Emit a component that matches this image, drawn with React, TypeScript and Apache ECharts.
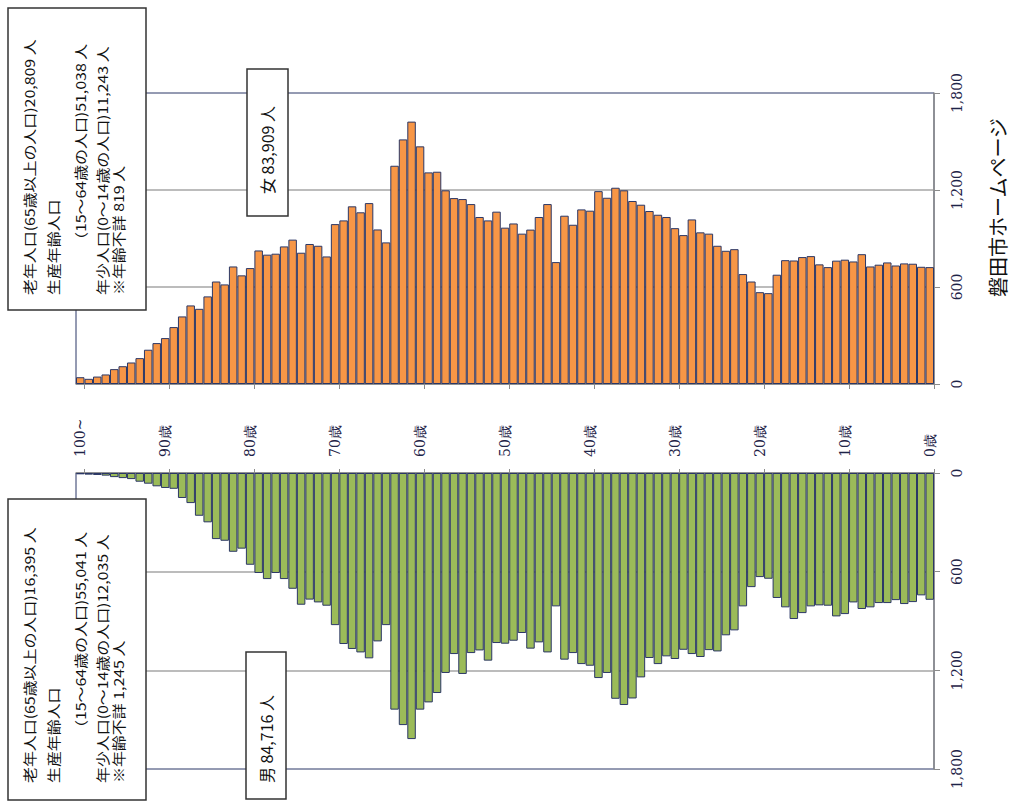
import React, { useEffect, useRef } from "react";
import * as echarts from "echarts";

// Age categories, left (100~) to right (0)
const ages = [
  "100~", "99", "98", "97", "96", "95", "94", "93", "92", "91",
  "90", "89", "88", "87", "86", "85", "84", "83", "82", "81",
  "80", "79", "78", "77", "76", "75", "74", "73", "72", "71",
  "70", "69", "68", "67", "66", "65", "64", "63", "62", "61",
  "60", "59", "58", "57", "56", "55", "54", "53", "52", "51",
  "50", "49", "48", "47", "46", "45", "44", "43", "42", "41",
  "40", "39", "38", "37", "36", "35", "34", "33", "32", "31",
  "30", "29", "28", "27", "26", "25", "24", "23", "22", "21",
  "20", "19", "18", "17", "16", "15", "14", "13", "12", "11",
  "10", "9", "8", "7", "6", "5", "4", "3", "2", "1",
  "0",
];

// 女 (female), age 100~ → 0
const female = [
  42, 32, 46, 59, 92, 110, 133, 160, 212, 253,
  284, 352, 418, 486, 465, 542, 634, 616, 727, 672,
  717, 826, 800, 806, 851, 893, 812, 866, 855, 789,
  989, 1012, 1099, 1062, 1119, 956, 876, 1350, 1513, 1623,
  1470, 1309, 1313, 1198, 1150, 1144, 1113, 1033, 1012, 1066,
  967, 993, 930, 955, 1033, 1113, 754, 1041, 985, 1080,
  1072, 1193, 1152, 1214, 1198, 1132, 1109, 1070, 1047, 1033,
  964, 921, 1018, 938, 930, 855, 824, 834, 680, 634,
  568, 562, 676, 766, 764, 785, 791, 740, 723, 763,
  769, 758, 803, 727, 738, 752, 733, 746, 744, 725,
  723,
];

// 男 (male), age 100~ → 0
const male = [
  8, 10, 12, 16, 25, 31, 37, 53, 65, 81,
  91, 96, 152, 183, 260, 300, 402, 412, 479, 460,
  558, 608, 645, 608, 645, 704, 801, 770, 787, 807,
  925, 1040, 1070, 1091, 1127, 1024, 925, 1439, 1533, 1618,
  1439, 1395, 1338, 1216, 1101, 1222, 1095, 1079, 1141, 1034,
  1038, 1020, 973, 1068, 1030, 1091, 811, 1135, 1095, 1162,
  1172, 1247, 1216, 1373, 1411, 1371, 1243, 1125, 1162, 1115,
  1131, 1075, 1101, 1119, 1077, 1085, 987, 957, 811, 694,
  633, 643, 760, 817, 888, 852, 811, 805, 807, 872,
  858, 787, 827, 817, 791, 791, 773, 797, 785, 744,
  771,
];

const femaleBoxLines = [
  "老年人口(65歳以上の人口)20,809 人",
  "生産年齢人口",
  "（15～64歳の人口)51,038 人",
  "年少人口(0～14歳の人口)11,243 人",
  "※年齢不詳 819 人",
];
const maleBoxLines = [
  "老年人口(65歳以上の人口)16,395 人",
  "生産年齢人口",
  "（15～64歳の人口)55,041 人",
  "年少人口(0～14歳の人口)12,035 人",
  "※年齢不詳 1,245 人",
];
const femaleTotal = "女 83,909 人";
const maleTotal = "男 84,716 人";
const sourceText = "磐田市ホームページ";

const VMAX = 1800;
const VSTEP = 600;

export default function App() {
  const ref = useRef<HTMLDivElement>(null);

  useEffect(() => {
    if (!ref.current) return;
    const chart = echarts.init(ref.current, null, { renderer: "svg" });
    const navy = "#2B3766";
    const gray = "#A6A6A6";
    const axisGray = "#8C8C8C";
    const tickLabel = {
      fontFamily: "DejaVu Serif",
      fontSize: 14,
      color: "#1E2347",
    };
    const cjk = "'Noto Sans CJK JP', sans-serif";

    const vText = (
      x: number,
      y: number,
      text: string,
      size: number,
      align = "left",
      stretch = 1
    ) => ({
      type: "text",
      x,
      y,
      rotation: Math.PI / 2,
      scaleX: stretch,
      z: 110,
      style: {
        text,
        font: `${size}px ${cjk}`,
        fill: "#111",
        textAlign: align,
        align,
        textVerticalAlign: "middle",
        verticalAlign: "middle",
      },
    });
    const box = (x: number, y: number, w: number, h: number) => ({
      type: "rect",
      z: 100,
      shape: { x, y, width: w, height: h },
      style: { fill: "#fff", stroke: "#333", lineWidth: 1.5 },
    });
    const colX = [29.5, 53, 80, 102, 118];
    const boxLines = (lines: string[], baseY: number) =>
      lines.map((t, i) =>
        vText(colX[i], i === 2 ? baseY - 47 : baseY, t, 13.5, "left", 1.18)
      );

    const labelInterval = (i: number) => i % 10 === 0;
    const tickInterval = (i: number) => i % 10 === 1;

    chart.setOption({
      animation: false,
      grid: [
        { left: 76, right: 81, top: 93, height: 291, show: true, borderColor: navy, borderWidth: 1 },
        { left: 76, right: 81, top: 473, height: 296, show: true, borderColor: navy, borderWidth: 1 },
      ],
      xAxis: [
        {
          type: "category",
          gridIndex: 0,
          data: ages,
          position: "bottom",
          axisLine: { lineStyle: { color: axisGray, width: 1.5 } },
          axisTick: { show: true, interval: tickInterval, length: 5, lineStyle: { color: axisGray } },
          axisLabel: { show: false },
          splitLine: { show: false },
        },
        {
          type: "category",
          gridIndex: 1,
          data: ages,
          position: "top",
          axisLine: { lineStyle: { color: axisGray, width: 1.5 } },
          axisTick: { show: true, interval: tickInterval, length: 4, lineStyle: { color: axisGray } },
          axisLabel: {
            show: true,
            interval: labelInterval,
            rotate: 90,
            margin: 16,
            ...tickLabel,
            formatter: (v: string) => (v === "100~" ? v : v + "歳"),
          },
          splitLine: { show: false },
        },
      ],
      yAxis: [
        {
          type: "value",
          gridIndex: 0,
          position: "right",
          min: 0,
          max: VMAX,
          interval: VSTEP,
          axisLine: { show: true, lineStyle: { color: axisGray, width: 1.5 } },
          axisTick: { show: true, length: 6, lineStyle: { color: axisGray } },
          axisLabel: {
            rotate: 90,
            margin: 16,
            ...tickLabel,
            formatter: (v: number) => v.toLocaleString("en-US"),
          },
          splitLine: { show: true, showMaxLine: false, lineStyle: { color: gray, width: 1.5 } },
        },
        {
          type: "value",
          gridIndex: 1,
          position: "right",
          inverse: true,
          min: 0,
          max: VMAX,
          interval: VSTEP,
          axisLine: { show: true, lineStyle: { color: axisGray, width: 1.5 } },
          axisTick: { show: true, length: 6, lineStyle: { color: axisGray } },
          axisLabel: {
            rotate: 90,
            margin: 16,
            ...tickLabel,
            formatter: (v: number) => v.toLocaleString("en-US"),
          },
          splitLine: { show: true, showMaxLine: false, lineStyle: { color: gray, width: 1.5 } },
        },
      ],
      series: [
        {
          name: "女",
          type: "bar",
          xAxisIndex: 0,
          yAxisIndex: 0,
          data: female,
          barCategoryGap: "0%",
          itemStyle: { color: "#F79646", borderColor: navy, borderWidth: 1 },
        },
        {
          name: "男",
          type: "bar",
          xAxisIndex: 1,
          yAxisIndex: 1,
          data: male,
          barCategoryGap: "0%",
          itemStyle: { color: "#9BBB59", borderColor: navy, borderWidth: 1 },
        },
      ],
      graphic: [
        box(8, 8, 138, 302),
        ...boxLines(femaleBoxLines, 295),
        box(8, 499, 138, 301),
        ...boxLines(maleBoxLines, 783),
        box(247, 69, 41, 147),
        vText(267, 150, femaleTotal, 16, "center"),
        box(246, 652, 40, 147),
        vText(266, 739, maleTotal, 16, "center"),
        vText(997, 297, sourceText, 20, "left"),
      ],
    });
    return () => chart.dispose();
  }, []);

  return (
    <div
      ref={ref}
      style={{ position: "absolute", left: 0, top: 0, width: 1015, height: 807 }}
    />
  );
}
